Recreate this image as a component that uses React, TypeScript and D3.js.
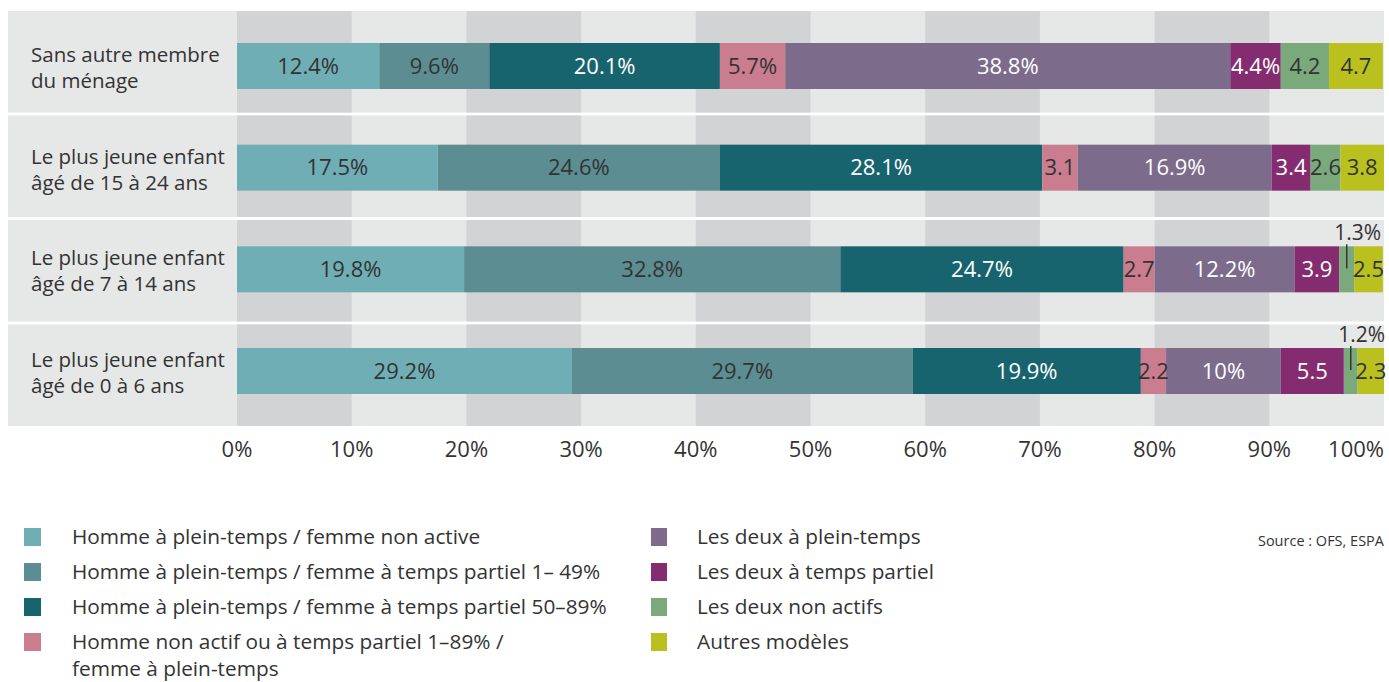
import React from "react";
import * as d3 from "d3";

const categories = [
  ["Sans autre membre", "du ménage"],
  ["Le plus jeune enfant", "âgé de 15 à 24 ans"],
  ["Le plus jeune enfant", "âgé de 7 à 14 ans"],
  ["Le plus jeune enfant", "âgé de 0 à 6 ans"],
];

const seriesNames = [
  "Homme à plein-temps / femme non active",
  "Homme à plein-temps / femme à temps partiel 1– 49%",
  "Homme à plein-temps / femme à temps partiel 50–89%",
  "Homme non actif ou à temps partiel 1–89% / femme à plein-temps",
  "Les deux à plein-temps",
  "Les deux à temps partiel",
  "Les deux non actifs",
  "Autres modèles",
];

const seriesColors = ["#70aeb6", "#5b8d92", "#18646e", "#c97d8e", "#7d6b8c", "#842c6f", "#7aa97c", "#bac11f"];
const labelColors = ["#333", "#333", "#fff", "#333", "#fff", "#fff", "#333", "#333"];

// values per row (category), in series order
const rowSans = [12.4, 9.6, 20.1, 5.7, 38.8, 4.4, 4.2, 4.7];
const row15to24 = [17.5, 24.6, 28.1, 3.1, 16.9, 3.4, 2.6, 3.8];
const row7to14 = [19.8, 32.8, 24.7, 2.7, 12.2, 3.9, 1.3, 2.5];
const row0to6 = [29.2, 29.7, 19.9, 2.2, 10, 5.5, 1.2, 2.3];

const labelsSans = ["12.4%", "9.6%", "20.1%", "5.7%", "38.8%", "4.4%", "4.2", "4.7"];
const labels15to24 = ["17.5%", "24.6%", "28.1%", "3.1", "16.9%", "3.4", "2.6", "3.8"];
const labels7to14 = ["19.8%", "32.8%", "24.7%", "2.7", "12.2%", "3.9", "1.3%", "2.5"];
const labels0to6 = ["29.2%", "29.7%", "19.9%", "2.2", "10%", "5.5", "1.2%", "2.3"];

// labels drawn outside above the bar with a leader line: [row, series]
const outsideLabels = [[2, 6], [3, 6]];

const tickValues = [0, 10, 20, 30, 40, 50, 60, 70, 80, 90, 100];

const rows = [rowSans, row15to24, row7to14, row0to6];
const rowLabels = [labelsSans, labels15to24, labels7to14, labels0to6];

const W = 1389;
const H = 682;
const FONT = "'Open Sans', 'Noto Sans', sans-serif";
const TEXT = "#333";

export default function App() {
  const x = d3.scaleLinear().domain([0, 100]).range([237, 1384]);
  const y = d3.scaleBand<number>().domain(d3.range(rows.length)).range([11, 426]).paddingInner(0.028);
  const barY = d3.scalePoint<number>().domain(d3.range(rows.length)).range([66, 371]);
  const barH = 46;

  const stackData = rows.map((r) => {
    const o: Record<string, number> = {};
    r.forEach((v, i) => (o["s" + i] = v));
    return o;
  });
  const stack = d3.stack<Record<string, number>>().keys(seriesNames.map((_, i) => "s" + i));
  const stacked = stack(stackData);

  const isOutside = (r: number, s: number) => outsideLabels.some(([a, b]) => a === r && b === s);

  const legendLeft = seriesNames.slice(0, 4);
  const legendRight = seriesNames.slice(4);

  return (
    <svg width={W} height={H} style={{ display: "block", position: "absolute", left: 0, top: 0 }} fontFamily={FONT}>
      <rect width={W} height={H} fill="#fff" />
      {rows.map((_, r) => {
        const y0 = y(r)!;
        const bh = y.bandwidth();
        const cy = barY(r)!;
        return (
          <g key={"bg" + r}>
            <rect x={8} y={y0} width={1384 - 8} height={bh} fill="#e6e7e7" />
            {tickValues.slice(0, -1).map((t, i) =>
              i % 2 === 0 ? (
                <rect key={t} x={x(t)} y={y0} width={x(t + 10) - x(t)} height={bh} fill="#d2d3d5" />
              ) : null
            )}
            <text x={31} y={cy - 4} fontSize={20.5} fill={TEXT}>
              {categories[r][0]}
            </text>
            <text x={31} y={cy + 22} fontSize={20.5} fill={TEXT}>
              {categories[r][1]}
            </text>
          </g>
        );
      })}
      {stacked.map((layer, s) => (
        <g key={"layer" + s}>
          {layer.map((d, r) => {
            const cy = barY(r)!;
            return (
              <rect
                key={r}
                x={x(d[0])}
                y={cy - barH / 2}
                width={x(d[1]) - x(d[0])}
                height={barH}
                fill={seriesColors[s]}
              />
            );
          })}
        </g>
      ))}
      {stacked.map((layer, s) => (
        <g key={"lab" + s}>
          {layer.map((d, r) => {
            const cy = barY(r)!;
            const cx = (x(d[0]) + x(d[1])) / 2;
            if (isOutside(r, s)) {
              return (
                <g key={r}>
                  <line x1={cx} x2={cx} y1={cy - barH / 2 - 2} y2={cy - 1} stroke={TEXT} strokeWidth={1.5} />
                  <text x={cx + 11} y={cy - barH / 2 - 6} fontSize={21} fill={TEXT} textAnchor="middle">
                    {rowLabels[r][s]}
                  </text>
                </g>
              );
            }
            return (
              <text key={r} x={cx} y={cy + 7.5} fontSize={22} fill={labelColors[s]} textAnchor="middle">
                {rowLabels[r][s]}
              </text>
            );
          })}
        </g>
      ))}
      {tickValues.map((t, i) => (
        <text
          key={"t" + t}
          x={x(t)}
          y={457}
          fontSize={22}
          fill={TEXT}
          textAnchor={i === tickValues.length - 1 ? "end" : "middle"}
        >
          {t + "%"}
        </text>
      ))}
      {legendLeft.map((name, i) => {
        const yy = 537 + i * 35;
        const parts = i === 3 ? ["Homme non actif ou à temps partiel 1–89% /", "femme à plein-temps"] : [name];
        return (
          <g key={"ll" + i}>
            <rect x={24} y={yy - 9} width={17} height={18} fill={seriesColors[i]} />
            {parts.map((p, k) => (
              <text key={k} x={72} y={yy + 7 + k * 27} fontSize={20.8} fill={TEXT}>
                {p}
              </text>
            ))}
          </g>
        );
      })}
      {legendRight.map((name, i) => {
        const yy = 537 + i * 35;
        return (
          <g key={"lr" + i}>
            <rect x={651} y={yy - 9} width={16} height={18} fill={seriesColors[i + 4]} />
            <text x={697} y={yy + 7} fontSize={20.8} fill={TEXT}>
              {name}
            </text>
          </g>
        );
      })}
      <text x={1384} y={546} fontSize={14.5} fill={TEXT} textAnchor="end">
        Source : OFS, ESPA
      </text>
    </svg>
  );
}
